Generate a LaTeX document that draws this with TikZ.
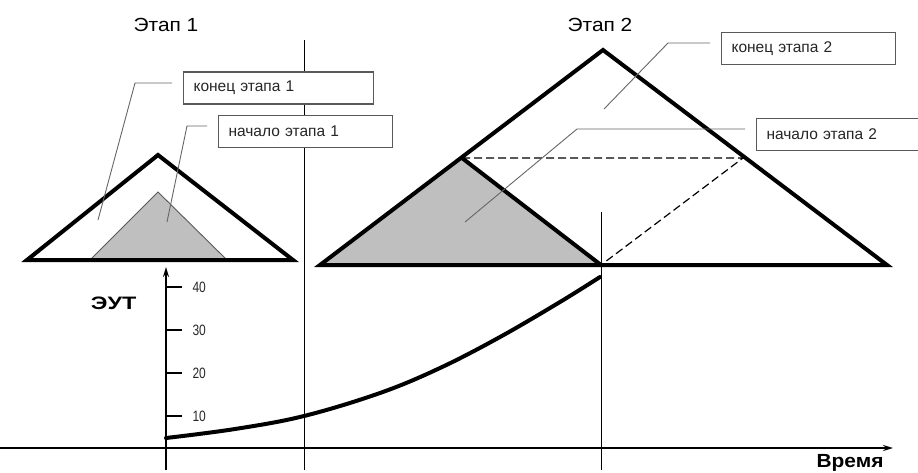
\documentclass[tikz,border=0pt]{standalone}
\usepackage{fontspec}
\setmainfont{Liberation Sans}
\newfontfamily\widefont[FakeStretch=1.1]{Liberation Sans}
\newfontfamily\wideboldfont[FakeStretch=1.3]{Liberation Sans Bold}
\newfontfamily\timeboldfont[FakeStretch=1.1]{Liberation Sans Bold}
\newfontfamily\narrowfont[FakeStretch=0.8]{Liberation Sans}
\usetikzlibrary{arrows.meta}
\begin{document}
\begin{tikzpicture}[x=1pt,y=-1pt,
  thickline/.style={line width=4pt, line join=miter, miter limit=20},
  thinline/.style={line width=1pt},
  axisline/.style={line width=1.8pt, -{Stealth[length=10pt,width=6pt]}},
  labelbox/.style={draw=black!65, line width=1.1pt, fill=white, minimum height=32pt,
    align=left, inner xsep=10pt, anchor=west, font=\fontsize{15.5}{17}\selectfont, text=black!85},
  leader/.style={draw=black!60, line width=0.9pt},
  dashline/.style={dash pattern=on 8pt off 4pt, line width=1.2pt},
  titletext/.style={font=\widefont\fontsize{19}{21}\selectfont},
  ticklabel/.style={font=\narrowfont\fontsize{15}{17}\selectfont, anchor=west, text=black!85}]
\useasboundingbox (0,0) rectangle (918,472);
\clip (0,0) rectangle (918,472);

% titles
\node[titletext] (t1) at (166,25) {Этап 1};
\node[titletext] (t2) at (600,25) {Этап 2};

% vertical separators
\coordinate (v1top) at (304,40);
\coordinate (v1bot) at (304,470);
\coordinate (v2top) at (601,212);
\coordinate (v2bot) at (601,470);
\draw[thinline] (v1top) -- (v1bot);
\draw[thinline] (v2top) -- (v2bot);

% triangle of stage 1
\coordinate (a1) at (27,260);
\coordinate (b1) at (158,155);
\coordinate (c1) at (293,260);
\coordinate (g1a) at (90,260);
\coordinate (g1b) at (158,192);
\coordinate (g1c) at (227,260);
\fill[white] (a1) -- (b1) -- (c1) -- cycle;
\filldraw[fill=black!25, draw=black!65, line width=0.9pt] (g1a) -- (g1b) -- (g1c) -- cycle;
\draw[thickline] (a1) -- (b1) -- (c1) -- cycle;

% triangle of stage 2
\coordinate (a2) at (320,265);
\coordinate (b2) at (603,50);
\coordinate (c2) at (887,265);
\coordinate (m2) at (462,158);
\coordinate (n2) at (601,265);
\coordinate (d2) at (743,158);
\fill[black!25] (a2) -- (m2) -- (n2) -- cycle;
\draw[dashline] (m2) -- (d2) -- (n2);
\draw[thickline] (m2) -- (n2);
\draw[thickline] (a2) -- (b2) -- (c2) -- cycle;

% label boxes
\node[labelbox, text width=170pt] (k1) at (183,88) {конец этапа 1};
\node[labelbox, text width=154pt] (s1) at (218,131.5) {начало этапа 1};
\node[labelbox, text width=154pt] (k2) at (721,48.5) {конец этапа 2};
\node[labelbox, text width=170pt] (s2) at (756,134.5) {начало этапа 2};

% leaders
\coordinate (k1end) at (98,220);
\coordinate (s1end) at (167,222);
\coordinate (k2end) at (604,109);
\coordinate (s2end) at (465,222);
\draw[leader] ([shift={(-11,-5)}]k1.west) -- (135,83) -- (k1end);
\draw[leader] ([shift={(-11,-5.5)}]s1.west) -- (187,126) -- (s1end);
\draw[leader] ([shift={(-11,-5.5)}]k2.west) -- (668,43) -- (k2end);
\draw[leader] ([shift={(-11,-5.5)}]s2.west) -- (577,129) -- (s2end);

% axes
\coordinate (ybot) at (166,470);
\coordinate (ytop) at (166,267);
\coordinate (xl) at (0,448);
\coordinate (xr) at (893,448);
\draw[axisline] (ybot) -- (ytop);
\draw[axisline] (xl) -- (xr);
\node[font=\wideboldfont\fontsize{18}{20}\selectfont, anchor=east] (eut) at (140,303) {ЭУТ};
\node[font=\timeboldfont\fontsize{19}{21}\selectfont] (vr) at (850,463) {Время};

% ticks
\foreach \yy/\lab in {287/40,330/30,373/20,416/10}{
  \draw[line width=1.4pt] (166,\yy) -- (182,\yy);
  \node[ticklabel] (tick\lab) at (189,\yy) {\lab};
}

% curve
\draw[line width=4pt, line cap=round] plot[smooth, tension=0.6] coordinates
  {(166,438) (235,429) (304,416) (380,393) (440,368) (500,337) (560,302) (600,277)};
\end{tikzpicture}
\end{document}
